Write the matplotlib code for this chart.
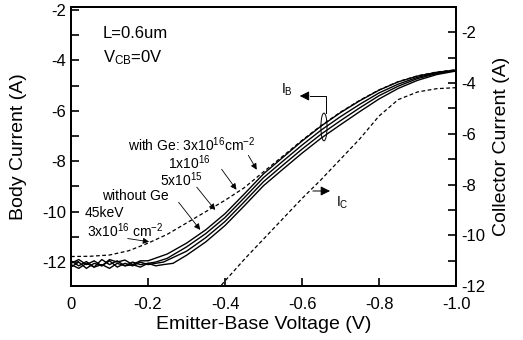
import matplotlib
matplotlib.use("Agg")
import matplotlib.pyplot as plt
from matplotlib.patches import Ellipse

plt.rcParams['font.family'] = ['Liberation Sans', 'DejaVu Sans']
plt.rcParams['mathtext.fontset'] = 'custom'
plt.rcParams['mathtext.rm'] = 'Liberation Sans'
plt.rcParams['mathtext.it'] = 'Liberation Sans:italic'

# body current, four Ge doses (solid), left axis
v1 = [0, -0.02, -0.04, -0.06, -0.08, -0.10, -0.12, -0.14, -0.16, -0.18,
      -0.20, -0.25, -0.30, -0.35, -0.40, -0.45, -0.50, -0.55, -0.60, -0.65,
      -0.70, -0.75, -0.80, -0.85, -0.90, -0.95, -1.0]
ib1 = [-12.05, -11.9, -12.1, -11.95, -12.15, -11.9, -12.0, -11.92, -12.1, -11.95,
       -11.95, -11.68, -11.25, -10.72, -10.08, -9.3, -8.5, -7.85, -7.2, -6.6,
       -6.07, -5.6, -5.18, -4.85, -4.62, -4.47, -4.38]

v2 = [0, -0.02, -0.04, -0.06, -0.08, -0.10, -0.12, -0.14, -0.16, -0.18,
      -0.20, -0.22, -0.25, -0.30, -0.35, -0.40, -0.45, -0.50, -0.55, -0.60,
      -0.65, -0.70, -0.75, -0.80, -0.85, -0.90, -0.95, -1.0]
ib2 = [-11.95, -12.15, -11.98, -12.2, -11.9, -12.1, -11.95, -12.15, -12.0, -12.1,
       -12.05, -12.0, -11.85, -11.4, -10.87, -10.23, -9.45, -8.65, -8.0, -7.36,
       -6.76, -6.23, -5.74, -5.29, -4.94, -4.67, -4.5, -4.39]

v3 = [0, -0.02, -0.04, -0.06, -0.08, -0.10, -0.12, -0.14, -0.16, -0.18,
      -0.20, -0.22, -0.24, -0.30, -0.35, -0.40, -0.45, -0.50, -0.55, -0.60,
      -0.65, -0.70, -0.75, -0.80, -0.85, -0.90, -0.95, -1.0]
ib3 = [-12.2, -12.0, -12.25, -12.05, -12.15, -11.95, -12.2, -12.05, -12.15, -12.0,
       -12.1, -12.05, -12.0, -11.57, -11.03, -10.39, -9.61, -8.81, -8.16, -7.52,
       -6.92, -6.39, -5.88, -5.4, -5.02, -4.72, -4.52, -4.4]

v4 = [0, -0.02, -0.04, -0.06, -0.08, -0.10, -0.12, -0.14, -0.16, -0.18,
      -0.20, -0.22, -0.24, -0.265, -0.30, -0.35, -0.40, -0.45, -0.50, -0.55,
      -0.60, -0.65, -0.70, -0.75, -0.80, -0.85, -0.90, -0.95, -1.0]
ib4 = [-12.1, -12.25, -12.05, -12.2, -12.1, -12.25, -12.05, -12.15, -12.1, -12.2,
       -12.05, -12.15, -12.1, -12.05, -11.73, -11.2, -10.55, -9.77, -8.97, -8.32,
       -7.68, -7.08, -6.55, -6.03, -5.53, -5.11, -4.79, -4.56, -4.42]

# body current, 45keV 3e16 (dashed)
v_45 = [0, -0.05, -0.10, -0.15, -0.20, -0.25, -0.30, -0.35, -0.40, -0.45,
        -0.50, -0.55, -0.60, -0.65, -0.70, -0.75, -0.80, -0.85, -0.90, -0.95, -1.0]
ib_45 = [-11.78, -11.77, -11.72, -11.55, -11.25, -10.9, -10.45, -10.0, -9.55, -9.05,
         -8.42, -7.8, -7.17, -6.58, -6.05, -5.58, -5.17, -4.84, -4.61, -4.46, -4.37]

# collector current, right axis
v_c = [-0.38, -0.40, -0.45, -0.50, -0.55, -0.60, -0.65, -0.70, -0.75, -0.80,
       -0.85, -0.90, -0.95, -1.0]
ic = [-12.15, -11.8, -10.95, -10.15, -9.35, -8.55, -7.8, -7.0, -6.2, -5.3,
      -4.65, -4.35, -4.22, -4.18]

xticks = [0, -0.2, -0.4, -0.6, -0.8, -1.0]
xticklabels = ['0', '-0.2', '-0.4', '-0.6', '-0.8', '-1.0']
yticks = [-2, -4, -6, -8, -10, -12]

fig = plt.figure(figsize=(5.23, 3.40), dpi=100)
ax = fig.add_axes([0.1358, 0.1588, 0.7361, 0.8206])
ax2 = ax.twinx()

for v, ib in [(v1, ib1), (v2, ib2), (v3, ib3), (v4, ib4)]:
    ax.plot(v, ib, color='k', lw=1.0)
ax.plot(v_45, ib_45, color='k', lw=0.9, ls=(0, (3, 2)))
ax2.plot(v_c, ic, color='k', lw=0.9, ls=(0, (3, 2)))

ax.set_xlim(0, -1.0)
ax.set_ylim(-12.95, -1.88)
ax2.set_ylim(-12, -1.0)

ax.set_xticks(xticks)
ax.set_xticklabels(xticklabels)
ax.set_yticks(yticks)
ax.set_yticklabels([str(t) for t in yticks])
ax.set_yticks([-3, -5, -7, -9, -11], minor=True)
ax2.set_yticks(yticks)
ax2.set_yticklabels([str(t) for t in yticks])
ax2.set_yticks([-3, -5, -7, -9, -11], minor=True)

for a in (ax, ax2):
    a.tick_params(which='both', direction='in', labelsize=12, width=1.2, length=6)
    for s in a.spines.values():
        s.set_linewidth(1.4)
ax.tick_params(axis='x', top=False, pad=8)

ax.set_xlabel('Emitter-Base Voltage (V)', fontsize=14)
ax.set_ylabel('Body Current (A)', fontsize=14)
ax2.set_ylabel('Collector Current (A)', fontsize=14)
ax.xaxis.set_label_coords(0.5, -0.108)
ax.yaxis.set_label_coords(-0.114, 0.5)
ax2.yaxis.set_label_coords(1.097, 0.5)

ax.text(-0.083, -2.95, 'L=0.6um', fontsize=12, va='center')
ax.text(-0.083, -3.87, r'V$_{\rm CB}$=0V', fontsize=12, va='center')

ap = dict(arrowstyle='-|>', lw=0.6, color='k', mutation_scale=9)
ax.text(-0.148, -7.36, r'with Ge: 3x10$^{16}$cm$^{-2}$', fontsize=10, va='center')
ax.annotate('', xy=(-0.486, -8.43), xytext=(-0.457, -7.67), arrowprops=ap)
ax.text(-0.252, -8.07, r'1x10$^{16}$', fontsize=10, va='center')
ax.annotate('', xy=(-0.434, -9.22), xytext=(-0.387, -8.23), arrowprops=ap)
ax.text(-0.231, -8.75, r'5x10$^{15}$', fontsize=10, va='center')
ax.annotate('', xy=(-0.379, -10.02), xytext=(-0.322, -8.94), arrowprops=ap)
ax.text(-0.081, -9.38, 'without Ge', fontsize=10, va='center')
ax.annotate('', xy=(-0.340, -10.81), xytext=(-0.275, -9.54), arrowprops=ap)
ax.text(-0.036, -10.06, '45keV', fontsize=10, va='center')
ax.text(-0.042, -10.77, r'3x10$^{16}$ cm$^{-2}$', fontsize=10, va='center')
ax.annotate('', xy=(-0.210, -11.21), xytext=(-0.140, -11.05), arrowprops=ap)

# IB marker
ax.add_patch(Ellipse((-0.657, -6.64), 0.016, 1.1, fill=False, lw=0.7, color='k'))
ax.plot([-0.662, -0.662, -0.62], [-6.09, -5.41, -5.41], color='k', lw=0.7)
ax.annotate('', xy=(-0.587, -5.41), xytext=(-0.625, -5.41),
            arrowprops=dict(arrowstyle='-|>', lw=0.7, color='k', mutation_scale=14))
ax.text(-0.561, -5.17, r'I$_{\rm B}$', fontsize=10, ha='center', va='center')

# IC marker
ax.annotate('', xy=(-0.68, -9.18), xytext=(-0.621, -9.18),
            arrowprops=dict(arrowstyle='-|>', lw=0.7, color='k', mutation_scale=14))
ax.text(-0.704, -9.66, r'I$_{\rm C}$', fontsize=10, ha='center', va='center')

fig.savefig('out.png', dpi=100)
